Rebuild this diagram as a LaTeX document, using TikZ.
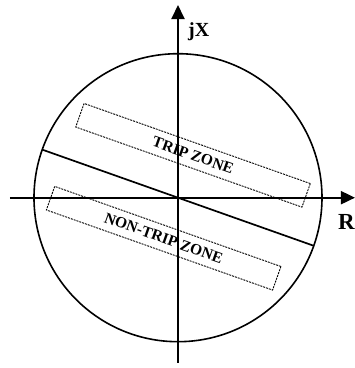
\documentclass[tikz,border=0pt]{standalone}
\usepackage{fontspec}
\setmainfont{Liberation Serif}
\usetikzlibrary{arrows.meta}
\tikzset{
  axis/.style={line width=1.9pt, -{Triangle[length=14pt,width=13pt]}},
  zonebox/.style={draw, line width=0.9pt, dash pattern=on 2pt off 1pt,
    rotate=-19.5, minimum width=240pt, minimum height=25pt, inner sep=0pt,
    font=\fontsize{15.5}{15.5}\selectfont\bfseries},
  axislabel/.style={inner sep=0pt, font=\bfseries}
}
\begin{document}
\begin{tikzpicture}[x=1pt,y=1pt]
    \useasboundingbox (-178,-170.3) rectangle (177,197.7);
    % Coordinate system
    \coordinate (O) at (0,0);
    \coordinate (Rmin) at (-168,0);
    \coordinate (Rmax) at (177,0);
    \coordinate (Xmin) at (0,-165);
    \coordinate (Xmax) at (0,192.7);
    \draw[axis] (Rmin) -- (Rmax);
    \draw[axis] (Xmin) -- (Xmax);
    \node[axislabel, anchor=base west, font=\fontsize{20}{20}\selectfont\bfseries] (jx) at (10,161) {jX};
    \node[axislabel, anchor=base east, font=\fontsize{23}{23}\selectfont\bfseries] (r) at (177,-31.6) {R};

    % Characteristic circle
    \draw[line width=1.6pt] (O) circle (144);

    % Dividing line
    \coordinate (L1) at (160.5:144);
    \coordinate (L2) at (-19.5:144);
    \draw[line width=1.7pt] (L1) -- (L2);

    % Zones
    \node[zonebox] (trip) at (70.5:45) {TRIP ZONE};
    \node[zonebox] (nontrip) at (250.5:43) {NON-TRIP ZONE};
\end{tikzpicture}
\end{document}
